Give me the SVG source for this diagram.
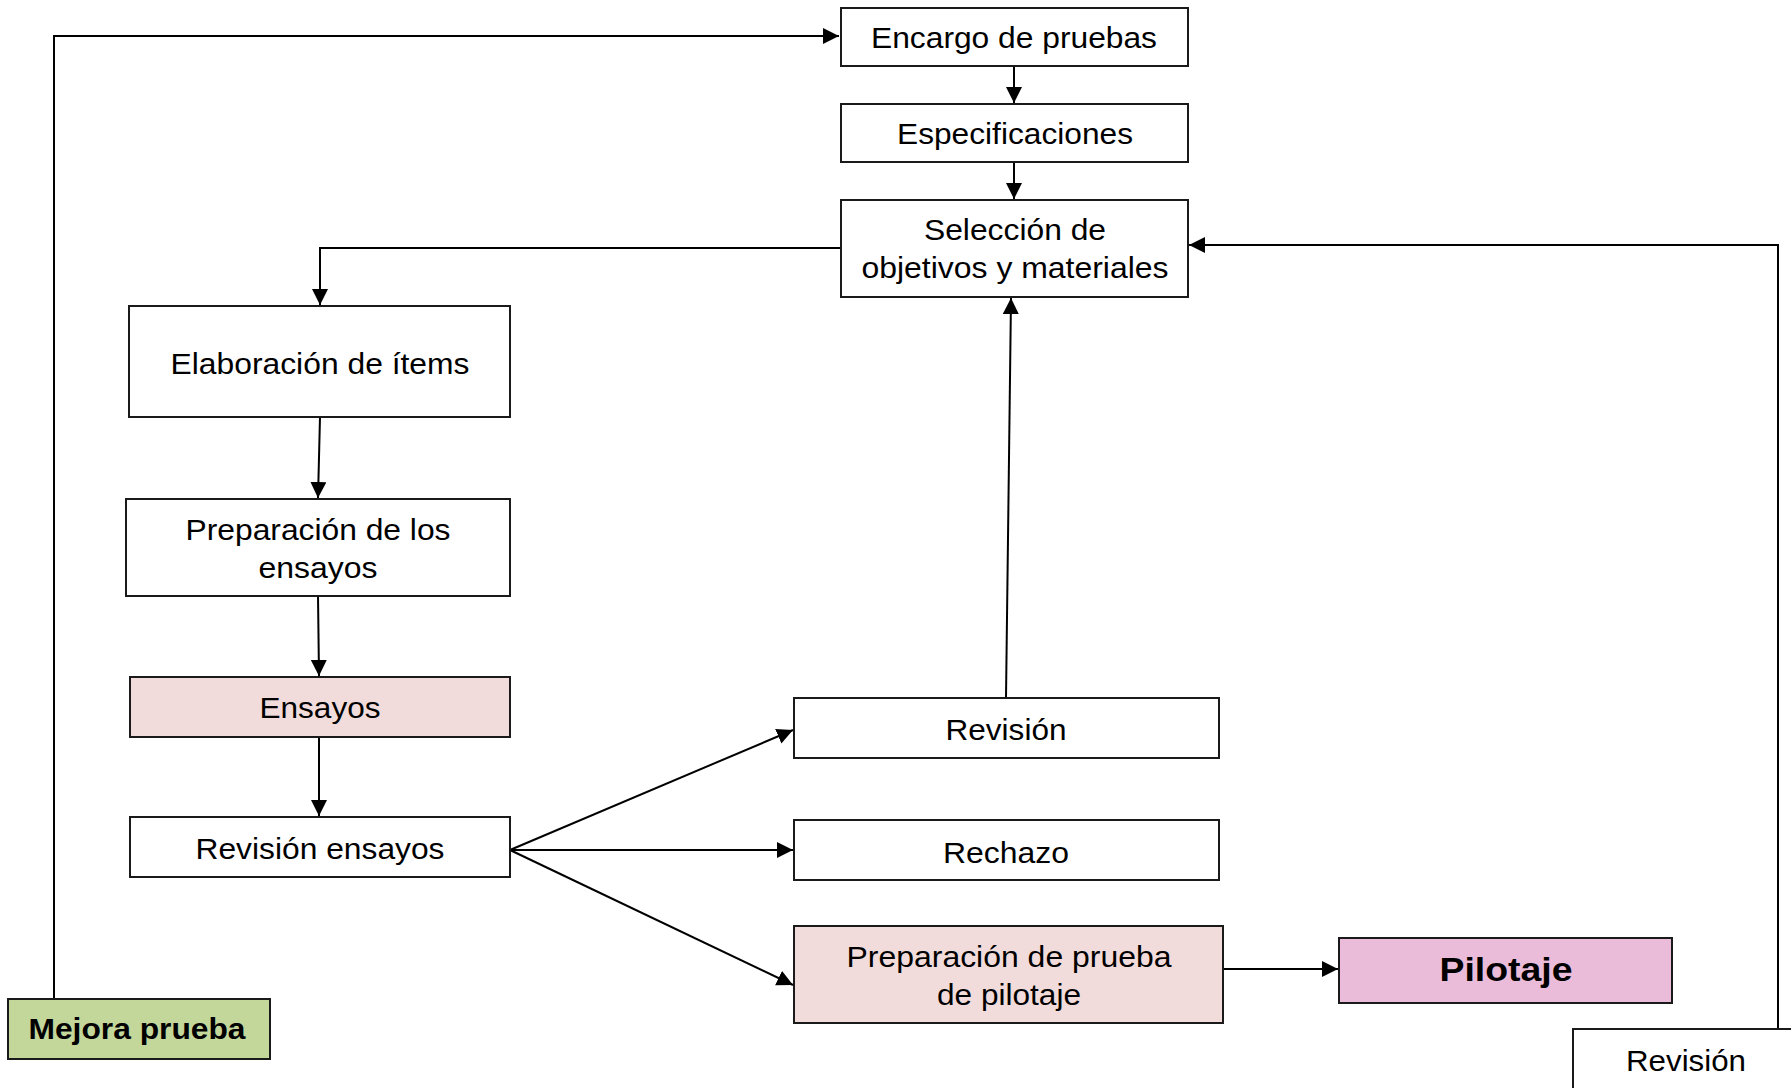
<svg xmlns="http://www.w3.org/2000/svg" width="1791" height="1088" viewBox="0 0 1791 1088">
<style>
.box{stroke:#1a1a1a;stroke-width:2;fill:#ffffff}
.pink{fill:#F2DCDB}
.mag{fill:#EBBCDA}
.green{fill:#C4D79B}
.t{font-family:"Liberation Sans",Arial,sans-serif;font-size:30px;fill:#000;text-anchor:middle}
.b{font-family:"Liberation Sans",Arial,sans-serif;font-weight:bold;fill:#000;text-anchor:middle}
.c{fill:none;stroke:#000;stroke-width:2}
</style>
<defs>
<marker id="ah" markerUnits="userSpaceOnUse" markerWidth="17" markerHeight="17" refX="16" refY="8" orient="auto">
<path d="M0,0 L16,8 L0,16 Z" fill="#000"/>
</marker>
</defs>
<g id="connectors">
<path class="c" d="M54,999 V36 H839" marker-end="url(#ah)" stroke-width="1.6"/>
<path class="c" d="M1014,66 V103" marker-end="url(#ah)"/>
<path class="c" d="M1014,162 V199" marker-end="url(#ah)"/>
<path class="c" d="M841,248 H320 V305" marker-end="url(#ah)"/>
<path class="c" d="M320,417 L318,498" marker-end="url(#ah)"/>
<path class="c" d="M318,596 L319,676" marker-end="url(#ah)"/>
<path class="c" d="M319,737 V816" marker-end="url(#ah)"/>
<path class="c" d="M510,850 L793,730" marker-end="url(#ah)" stroke-width="1.6"/>
<path class="c" d="M510,850 H793" marker-end="url(#ah)"/>
<path class="c" d="M510,850 L793,985" marker-end="url(#ah)" stroke-width="1.6"/>
<path class="c" d="M1006,698 L1011,298" marker-end="url(#ah)"/>
<path class="c" d="M1220,969 H1338" marker-end="url(#ah)"/>
<path class="c" d="M1778,1029 V245 H1189" marker-end="url(#ah)" stroke-width="1.6"/>
</g>
<g id="encargo">
<rect class="box" x="841" y="8" width="347" height="58"/>
<text class="t" x="1014" y="48" textLength="286" lengthAdjust="spacingAndGlyphs">Encargo de pruebas</text>
</g>
<g id="especificaciones">
<rect class="box" x="841" y="104" width="347" height="58"/>
<text class="t" x="1015" y="144" textLength="236" lengthAdjust="spacingAndGlyphs">Especificaciones</text>
</g>
<g id="seleccion">
<rect class="box" x="841" y="200" width="347" height="97"/>
<text class="t" x="1015" y="240" textLength="182" lengthAdjust="spacingAndGlyphs">Selección de</text>
<text class="t" x="1015" y="278" textLength="307" lengthAdjust="spacingAndGlyphs">objetivos y materiales</text>
</g>
<g id="elaboracion">
<rect class="box" x="129" y="306" width="381" height="111"/>
<text class="t" x="320" y="374" textLength="299" lengthAdjust="spacingAndGlyphs">Elaboración de ítems</text>
</g>
<g id="preparacion">
<rect class="box" x="126" y="499" width="384" height="97"/>
<text class="t" x="318" y="540" textLength="265" lengthAdjust="spacingAndGlyphs">Preparación de los</text>
<text class="t" x="318" y="578" textLength="119" lengthAdjust="spacingAndGlyphs">ensayos</text>
</g>
<g id="ensayos">
<rect class="box pink" x="130" y="677" width="380" height="60"/>
<text class="t" x="320" y="718" textLength="121" lengthAdjust="spacingAndGlyphs">Ensayos</text>
</g>
<g id="revision-ensayos">
<rect class="box" x="130" y="817" width="380" height="60"/>
<text class="t" x="320" y="859" textLength="249" lengthAdjust="spacingAndGlyphs">Revisión ensayos</text>
</g>
<g id="revision">
<rect class="box" x="794" y="698" width="425" height="60"/>
<text class="t" x="1006" y="740" textLength="121" lengthAdjust="spacingAndGlyphs">Revisión</text>
</g>
<g id="rechazo">
<rect class="box" x="794" y="820" width="425" height="60"/>
<text class="t" x="1006" y="863" textLength="126" lengthAdjust="spacingAndGlyphs">Rechazo</text>
</g>
<g id="preparacion-prueba">
<rect class="box pink" x="794" y="926" width="429" height="97"/>
<text class="t" x="1009" y="967" textLength="325" lengthAdjust="spacingAndGlyphs">Preparación de prueba</text>
<text class="t" x="1009" y="1005" textLength="144" lengthAdjust="spacingAndGlyphs">de pilotaje</text>
</g>
<g id="pilotaje">
<rect class="box mag" x="1339" y="938" width="333" height="65"/>
<text class="b" x="1506" y="981" font-size="34" textLength="133" lengthAdjust="spacingAndGlyphs">Pilotaje</text>
</g>
<g id="mejora">
<rect class="box green" x="8" y="999" width="262" height="60"/>
<text class="b" x="137" y="1039" font-size="29" textLength="217" lengthAdjust="spacingAndGlyphs">Mejora prueba</text>
</g>
<g id="revision-final">
<rect class="box" x="1573" y="1029" width="240" height="80"/>
<text class="t" x="1686" y="1071" textLength="120" lengthAdjust="spacingAndGlyphs">Revisión</text>
</g>
</svg>
